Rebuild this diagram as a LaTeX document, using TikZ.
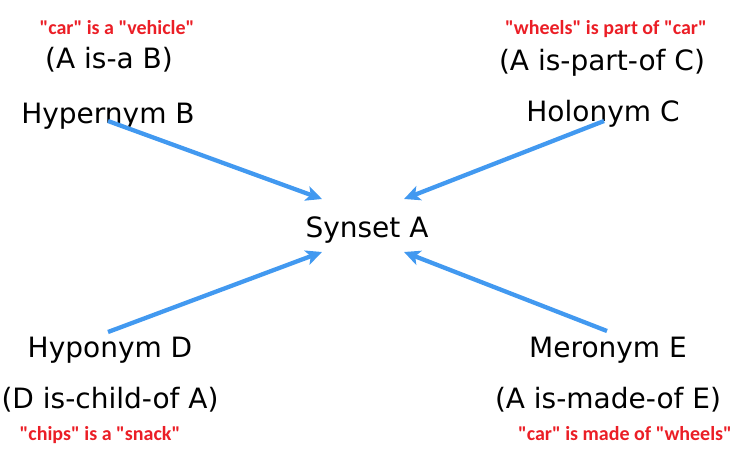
\documentclass[tikz,border=0pt]{standalone}
\usepackage{fontspec}
\setmainfont{DejaVu Sans}
\newfontfamily\redfont{Carlito}
\usetikzlibrary{arrows.meta,calc}
\definecolor{arrowblue}{RGB}{66,153,240}
\definecolor{notered}{RGB}{235,30,38}
\tikzset{
  label text/.style={anchor=base,inner sep=0pt,font=\fontsize{28}{31}\selectfont,text=black},
  note text/.style={anchor=base,inner sep=0pt,font=\redfont\bfseries\fontsize{20}{22}\selectfont,text=notered},
  rel arrow/.style={draw=arrowblue,line width=4.3pt,-{Stealth[length=16pt,width=15pt,inset=4pt]}}
}
\begin{document}
\begin{tikzpicture}[x=1pt,y=-1pt]
\useasboundingbox (0,0) rectangle (738,466);
% top left
\node[note text] (n1) at (117,34) {"car" is a "vehicle"};
\node[label text] (isa) at (109,68) {(A is-a B)};
\node[label text] (hyper) at (108,123) {Hypernym B};
% top right
\node[note text] (n2) at (606,34) {"wheels" is part of "car"};
\node[label text] (partof) at (602,70) {(A is-part-of C)};
\node[label text] (holo) at (603,121) {Holonym C};
% centre
\node[label text] (syn) at (367,237) {Synset A};
% bottom left
\node[label text] (hypo) at (110,357) {Hyponym D};
\node[label text] (child) at (110,408) {(D is-child-of A)};
\node[note text] (n3) at (100,440) {"chips" is a "snack"};
% bottom right
\node[label text] (mero) at (608,357) {Meronym E};
\node[label text] (made) at (608,408) {(A is-made-of E)};
\node[note text] (n4) at (625,440) {"car" is made of "wheels"};
% arrow tips around Synset A
\coordinate (tnw) at (322,199);
\coordinate (tne) at (404,199);
\coordinate (tsw) at (322,252);
\coordinate (tse) at (404,252);
\coordinate (shyper) at (108,121);
\coordinate (sholo) at (604,121);
\coordinate (shypo) at (108,332);
\coordinate (smero) at (607,331);
\draw[rel arrow] (shyper) -- (tnw);
\draw[rel arrow] (sholo) -- (tne);
\draw[rel arrow] (shypo) -- (tsw);
\draw[rel arrow] (smero) -- (tse);
\end{tikzpicture}
\end{document}
